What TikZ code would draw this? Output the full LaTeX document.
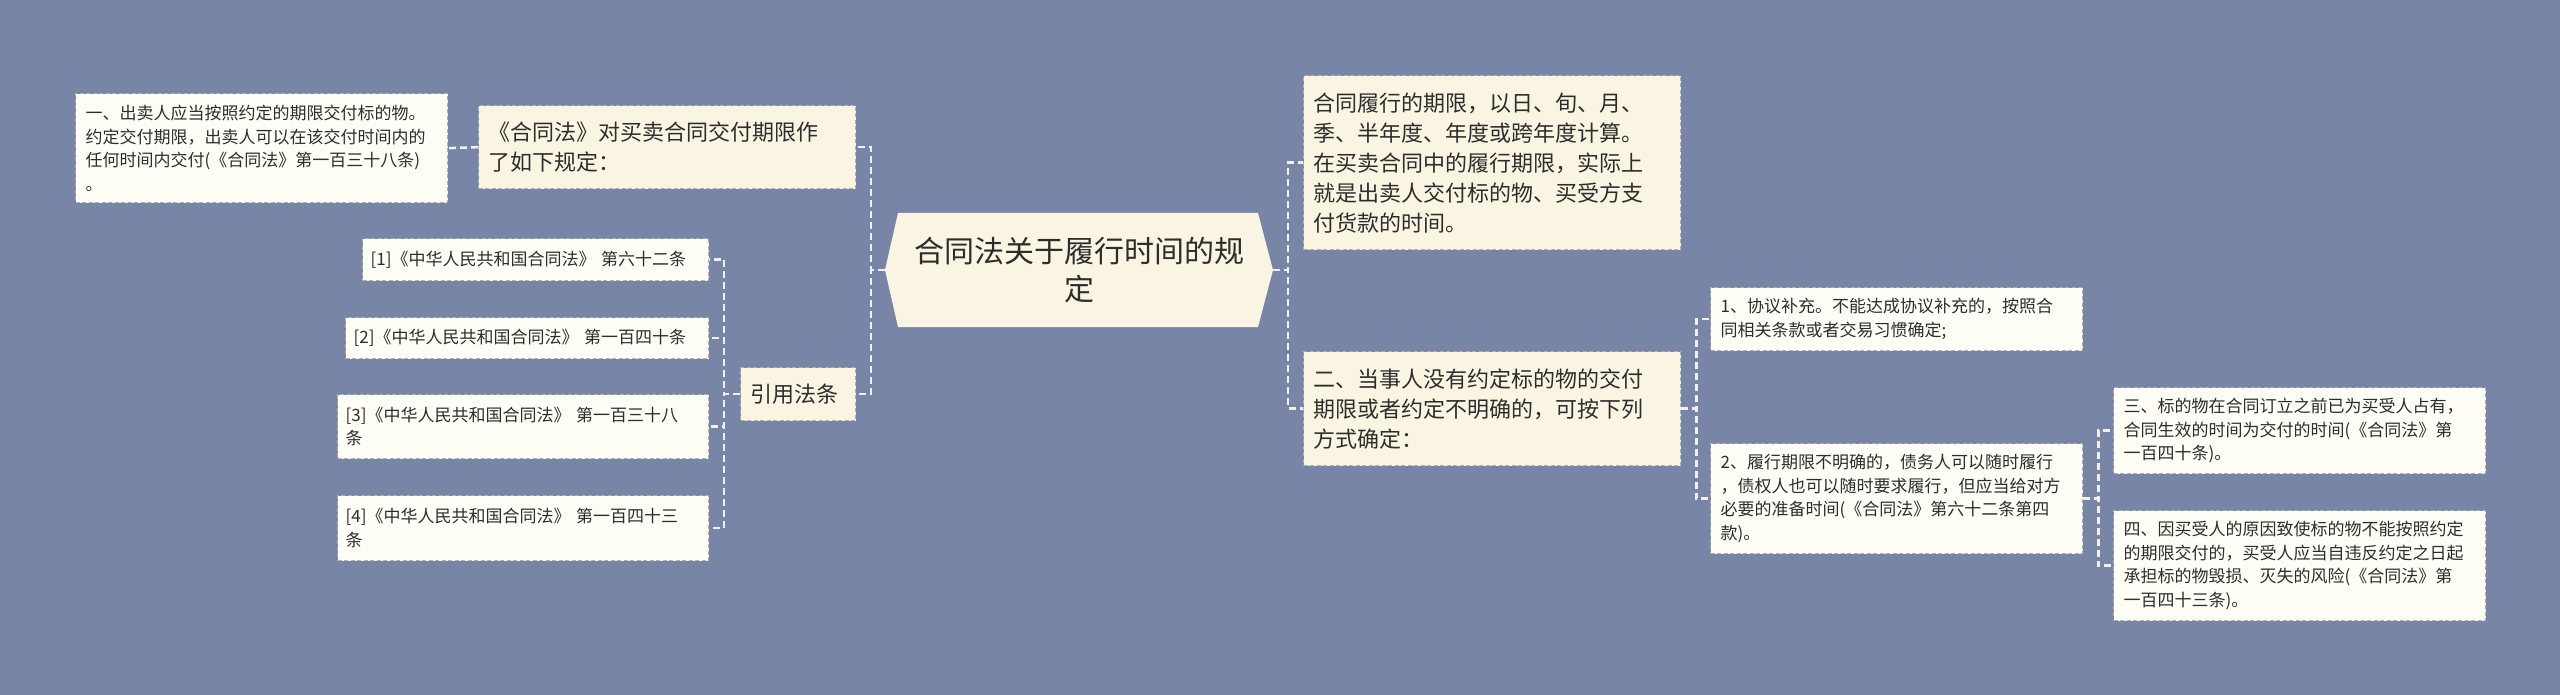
\documentclass[tikz,border=0pt]{standalone}
\usepackage{fontspec}
\newfontfamily\cjk{Noto Sans CJK SC}
\definecolor{bgc}{RGB}{121,133,166}
\definecolor{creamA}{RGB}{250,245,226}
\definecolor{creamB}{RGB}{254,253,246}
\definecolor{bordc}{RGB}{175,175,175}
\definecolor{linec}{RGB}{240,240,240}
\definecolor{txtc}{RGB}{45,45,45}
\begin{document}
\begin{tikzpicture}[x=1pt,y=-1pt,
  bx/.style={draw=bordc, dash pattern=on 4pt off 2.5pt, line width=1.3pt, text=txtc, align=left, anchor=north west, inner xsep=10pt, inner ysep=2pt},
  lvA/.style={bx, fill=creamA, font=\cjk\fontsize{22}{30}\selectfont},
  lvB/.style={bx, fill=creamB, font=\cjk\fontsize{17}{23.5}\selectfont},
  conn/.style={draw=linec, line width=2.5pt, dash pattern=on 7pt off 4pt}
]
\fill[bgc] (0,0) rectangle (2560,695);
\useasboundingbox (0,0) rectangle (2560,695);

% central hexagon
\fill[creamA] (885,270) -- (898,213) -- (1258,213) -- (1273,270) -- (1258,327) -- (898,327) -- cycle;
\node[font=\cjk\fontsize{30}{38}\selectfont, text=txtc, align=center, minimum width=388pt, minimum height=114pt, inner sep=0pt] (root) at (1079,270) {合同法关于履行时间的规\\定};

% left side
\node[lvA, text width=357pt, minimum height=83pt] (b) at (478,105) {《合同法》对买卖合同交付期限作\\了如下规定：};
\node[lvB, text width=352pt, minimum height=109pt] (a) at (75,93) {一、出卖人应当按照约定的期限交付标的物。\\约定交付期限，出卖人可以在该交付时间内的\\任何时间内交付(《合同法》第一百三十八条)\\。};
\node[lvA, text width=95pt, minimum height=53pt] (yf) at (740,367) {引用法条};
\node[lvB, text width=330pt, minimum height=42pt, inner xsep=8pt] (r1) at (362,238) {[1]《中华人民共和国合同法》 第六十二条};
\node[lvB, text width=347pt, minimum height=41pt, inner xsep=8pt] (r2) at (345,317) {[2]《中华人民共和国合同法》 第一百四十条};
\node[lvB, text width=355pt, minimum height=64pt, inner xsep=8pt] (r3) at (337,394) {[3]《中华人民共和国合同法》 第一百三十八\\条};
\node[lvB, text width=355pt, minimum height=65pt, inner xsep=8pt] (r4) at (337,495) {[4]《中华人民共和国合同法》 第一百四十三\\条};

% right side
\node[lvA, text width=357pt, minimum height=174pt] (c) at (1303,75) {合同履行的期限，以日、旬、月、\\季、半年度、年度或跨年度计算。\\在买卖合同中的履行期限，实际上\\就是出卖人交付标的物、买受方支\\付货款的时间。};
\node[lvA, text width=357pt, minimum height=114pt] (d) at (1303,351) {二、当事人没有约定标的物的交付\\期限或者约定不明确的，可按下列\\方式确定：};
\node[lvB, text width=352pt, minimum height=63pt] (e) at (1710,287) {1、协议补充。不能达成协议补充的，按照合\\同相关条款或者交易习惯确定;};
\node[lvB, text width=352pt, minimum height=110pt] (f) at (1710,443) {2、履行期限不明确的，债务人可以随时履行\\，债权人也可以随时要求履行，但应当给对方\\必要的准备时间(《合同法》第六十二条第四\\款)。};
\node[lvB, text width=352pt, minimum height=86pt] (g) at (2113,387) {三、标的物在合同订立之前已为买受人占有，\\合同生效的时间为交付的时间(《合同法》第\\一百四十条)。};
\node[lvB, text width=352pt, minimum height=110pt] (h) at (2113,510) {四、因买受人的原因致使标的物不能按照约定\\的期限交付的，买受人应当自违反约定之日起\\承担标的物毁损、灭失的风险(《合同法》第\\一百四十三条)。};

% connectors
\draw[conn] (root.west) -- ++(-14,0) |- (b.east);
\draw[conn] (root.west) -- ++(-14,0) |- (yf.east);
\draw[conn] (b.west) -- (a.east);
\draw[conn] (yf.west) -- ++(-16,0) |- (r1.east);
\draw[conn] (yf.west) -- ++(-16,0) |- (r2.east);
\draw[conn] (yf.west) -- ++(-16,0) |- (r3.east);
\draw[conn] (yf.west) -- ++(-16,0) |- (r4.east);
\draw[conn] (root.east) -- ++(15,0) |- (c.west);
\draw[conn] (root.east) -- ++(15,0) |- (d.west);
\draw[conn] (d.east) -- ++(15,0) |- (e.west);
\draw[conn] (d.east) -- ++(15,0) |- (f.west);
\draw[conn] (f.east) -- ++(15,0) |- (g.west);
\draw[conn] (f.east) -- ++(15,0) |- (h.west);
\end{tikzpicture}
\end{document}
